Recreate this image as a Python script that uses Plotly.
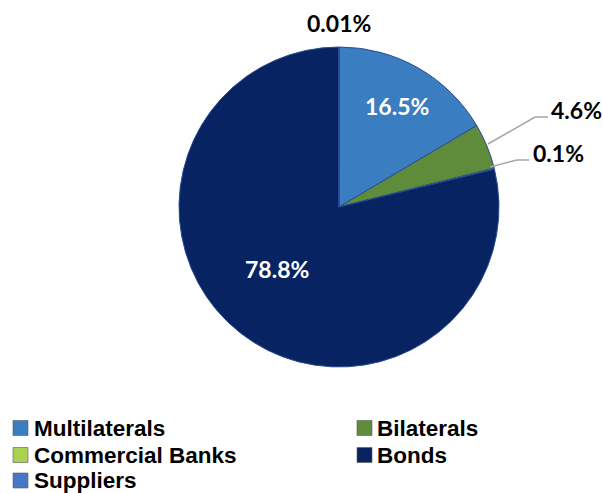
import plotly.graph_objects as go

# Debt stock composition by creditor type (percent of total)
creditors = ["Multilaterals", "Bilaterals", "Commercial Banks", "Bonds", "Suppliers"]
shares = [16.5, 4.6, 0.1, 78.8, 0.01]
slice_colors = ["#3A7DC1", "#5E8C3A", "#AAD250", "#082362", "#4678C8"]

W, H = 603, 493


def px(x, y):
    """Pixel position -> paper coordinates (figure has no margins)."""
    return x / W, 1 - y / H


fig = go.Figure()
fig.add_trace(go.Pie(
    labels=creditors,
    values=shares,
    sort=False,
    direction="clockwise",
    rotation=0,
    textinfo="none",
    hoverinfo="label+percent",
    marker=dict(colors=slice_colors, line=dict(color="#2A4C94", width=1)),
    domain=dict(x=[179 / W, 499 / W], y=[1 - 367 / H, 1 - 47 / H]),
    showlegend=False,
))

# value labels: (center px, text colour, leader line px or None)
label_layout = {
    "Multilaterals": ((397, 106), "white", None),
    "Bilaterals": ((576, 110), "black", [(488, 144), (535, 117), (548, 117)]),
    "Commercial Banks": ((558, 153), "black", [(490, 167), (517, 160), (529, 160)]),
    "Bonds": ((277, 269), "white", None),
    "Suppliers": ((339, 23), "black", None),
}

annotations = []
shapes = []
for name, val in zip(creditors, shares):
    (cx, cy), col, line = label_layout[name]
    x, y = px(cx, cy)
    annotations.append(dict(
        x=x, y=y, xref="paper", yref="paper", xanchor="center", yanchor="middle",
        text=f"<b>{val}%</b>", showarrow=False,
        font=dict(family="Lato", size=23, color=col),
    ))
    if line:
        pts = [px(a, b) for a, b in line]
        path = "M " + " L ".join(f"{a:.5f},{b:.5f}" for a, b in pts)
        shapes.append(dict(type="path", xref="paper", yref="paper", path=path,
                           line=dict(color="#A6A6A6", width=1.5)))

# two-column legend under the pie
col_sym_x = [13, 357]
col_txt_x = [32, 375]
row_y = [428, 455, 480.5]
for i, (name, col) in enumerate(zip(creditors, slice_colors)):
    c, r = i % 2, i // 2
    yc = row_y[r]
    x0, y0 = px(col_sym_x[c], yc - 7.5)
    x1, y1 = px(col_sym_x[c] + 15, yc + 7.5)
    shapes.append(dict(type="rect", xref="paper", yref="paper",
                       x0=x0, y0=y0, x1=x1, y1=y1,
                       fillcolor=col, line=dict(color="#5A5A5A", width=0.6)))
    tx, ty = px(col_txt_x[c], yc)
    annotations.append(dict(
        x=tx, y=ty, xref="paper", yref="paper", xanchor="left", yanchor="middle",
        text=f"<b>{name}</b>", showarrow=False,
        font=dict(family="Liberation Sans", size=22.5, color="black"),
    ))

fig.update_layout(
    width=W, height=H,
    margin=dict(l=0, r=0, t=0, b=0),
    paper_bgcolor="white",
    plot_bgcolor="white",
    annotations=annotations,
    shapes=shapes,
)

fig.write_html("out.html")
